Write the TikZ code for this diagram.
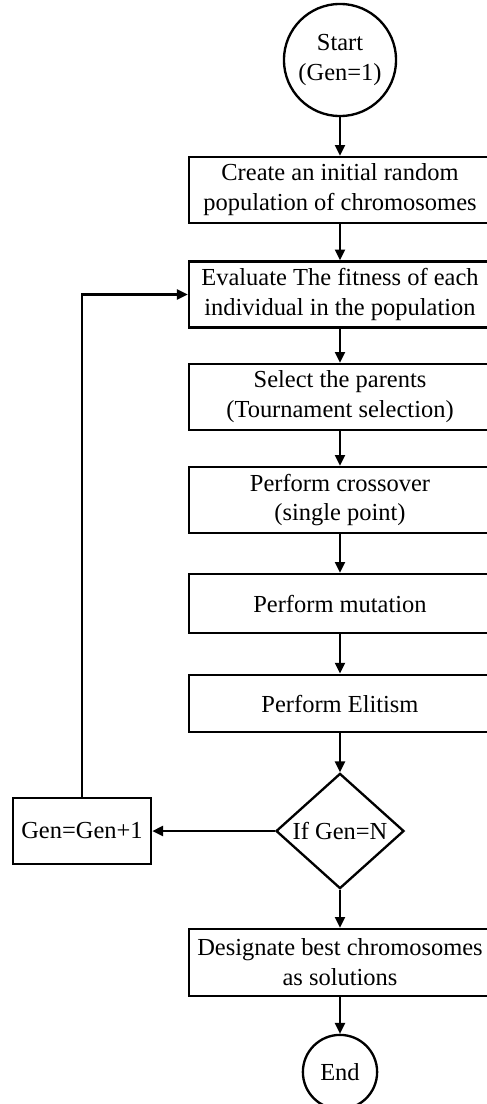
\documentclass[tikz,border=0pt]{standalone}
\usepackage{fontspec}
\setmainfont{Liberation Serif}
\usetikzlibrary{shapes.geometric,arrows.meta}

\tikzset{
    procbox/.style={draw, line width=1.3pt, rectangle, minimum width=5.9cm,
        minimum height=1.29cm, align=center, inner sep=1pt,
        font=\fontsize{13.6}{16.6}\selectfont},
    termcirc/.style={draw, line width=1.3pt, circle, align=center, inner sep=0pt,
        font=\fontsize{13.6}{16.6}\selectfont},
    decision/.style={draw, line width=1.3pt, diamond, inner sep=0pt,
        minimum width=2.5cm, minimum height=2.25cm,
        font=\fontsize{13.6}{16.6}\selectfont},
    flowarrow/.style={line width=1.3pt, -{Triangle[length=6pt,width=5.5pt]}}
}

\begin{document}
\begin{tikzpicture}[x=0.01953cm, y=-0.01953cm]
            \useasboundingbox (0, 0) rectangle (486, 1104);
            % terminals
            \node[termcirc, minimum size=2.19cm] (start) at (340, 60) {Start\\(Gen=1)};
            \node[termcirc, minimum size=1.45cm] (stop) at (340, 1072) {End};
            % process boxes
            \node[procbox] (init) at (340, 190) {Create an initial random\\population of chromosomes};
            \node[procbox] (evalfit) at (340, 294.5) {Evaluate The fitness of each\\individual in the population};
            \node[procbox] (select) at (340, 397) {Select the parents\\(Tournament selection)};
            \node[procbox] (cross) at (340, 500) {Perform crossover\\(single point)};
            \node[procbox, minimum height=1.15cm] (mutate) at (340, 603.5) {Perform mutation};
            \node[procbox, minimum height=1.12cm] (elite) at (340, 703.5) {Perform Elitism};
            \node[decision] (check) at (340, 831) {If Gen=N};
            \node[procbox, minimum width=2.7cm] (incr) at (82, 831) {Gen=Gen+1};
            \node[procbox, minimum height=1.31cm] (best) at (340, 962.5) {Designate best chromosomes\\as solutions};
            % connectors
            \draw[flowarrow] (start) -- (init);
            \draw[flowarrow] (init) -- (evalfit);
            \draw[flowarrow] (evalfit) -- (select);
            \draw[flowarrow] (select) -- (cross);
            \draw[flowarrow] (cross) -- (mutate);
            \draw[flowarrow] (mutate) -- (elite);
            \draw[flowarrow] (elite) -- (check);
            \draw[flowarrow] (check) -- (incr);
            \draw[flowarrow] (incr.north) |- (evalfit.west);
            \draw[flowarrow] (check) -- (best);
            \draw[flowarrow] (best) -- (stop);
        \end{tikzpicture}
\end{document}
